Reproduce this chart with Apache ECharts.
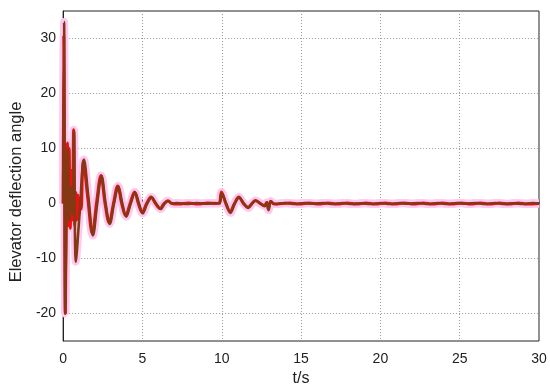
<!DOCTYPE html>
<html><head><meta charset="utf-8">
<script src="https://cdn.jsdelivr.net/npm/echarts@6/dist/echarts.min.js"></script>
<style>html,body{margin:0;padding:0;background:#fff}#c{width:550px;height:392px}</style>
</head><body><div id="c"></div>
<script>
const xTicks = [0, 5, 10, 15, 20, 25, 30];
const yTicks = [-20, -10, 0, 10, 20, 30];
const xLabel = 't/s';
const yLabel = 'Elevator deflection angle';

const brownT = [0, 0.06, 0.13, 0.2, 0.3, 0.4, 0.5, 0.6, 0.69, 0.8, 1.05, 1.31, 1.6, 1.88, 2.15, 2.42, 2.68, 2.94, 3.21, 3.48, 3.73, 3.98, 4.26, 4.54, 4.78, 5.02, 5.3, 5.58, 5.86, 6.15, 6.4, 6.63, 6.85, 7.2, 7.8, 8.4, 9.0, 9.6, 9.86, 10.0, 10.28, 10.55, 10.82, 11.1, 11.4, 11.68, 11.92, 12.15, 12.45, 12.7, 12.85, 12.95, 13.1, 13.35, 14.0, 14.6, 15.2, 15.8, 16.4, 17.0, 17.6, 18.2, 18.8, 19.4, 20.0, 20.6, 21.2, 21.8, 22.4, 23.0, 23.6, 24.2, 24.8, 25.4, 26.0, 26.6, 27.2, 27.8, 28.4, 29.0, 29.6, 30];
const brownV = [0, 33, -20, -4, 10, -3, 3, -2, 13.2, -10.6, -1.3, 8, 1, -5.8, 0, 5, 0, -3.7, 0, 3.1, 0, -2.4, 0, 2.0, 0, -1.8, 0, 1.1, 0, -1.0, 0, 0.45, 0, 0.1, -0.1, 0.1, -0.05, 0.1, 0, 1.9, 0, -1.7, 0, 1.1, 0, -0.8, 0, 0.5, 0, -0.5, 0.2, -1.2, 0.4, -0.1, 0.1, -0.1, 0.1, -0.05, 0.1, -0.1, 0.1, -0.1, 0.05, -0.1, 0.1, -0.1, 0.1, -0.05, 0.1, -0.1, 0.1, -0.1, 0.1, -0.05, 0.1, -0.1, 0.1, -0.1, 0.05, -0.1, 0.1, 0];

const redT = [0, 0.04, 0.09, 0.14, 0.2, 0.27, 0.33, 0.38, 0.45, 0.52, 0.58, 0.66, 0.73, 0.8, 0.86, 0.93, 1.0, 1.07, 1.14, 1.27, 1.55, 1.84, 2.1, 2.38, 2.64, 2.9, 3.17, 3.44, 3.69, 3.94, 4.22, 4.5, 4.74, 4.98, 5.26, 5.54, 5.82, 6.11, 6.36, 6.6, 6.85, 7.3, 7.9, 8.5, 9.1, 9.6, 9.84, 9.98, 10.25, 10.52, 10.8, 11.07, 11.36, 11.65, 11.9, 12.12, 12.42, 12.68, 12.83, 12.93, 13.08, 13.3, 14.3, 14.9, 15.5, 16.1, 16.7, 17.3, 17.9, 18.5, 19.1, 19.7, 20.3, 20.9, 21.5, 22.1, 22.7, 23.3, 23.9, 24.5, 25.1, 25.7, 26.3, 26.9, 27.5, 28.1, 28.7, 29.3, 30];
const redV = [0, 30.5, 5, -20, -2, 11, -4, 10, -4.5, 6, -3, 13.4, -4, 2, -3, 1.5, -2, 1, -1, 7.8, 1, -5.5, 0, 5.1, 0, -3.5, 0, 3.2, 0, -2.2, 0, 2.1, 0, -1.6, 0, 1.2, 0, -0.9, 0, 0.5, 0, -0.1, 0.1, -0.1, 0.1, 0, 0.1, 2.1, 0, -1.5, 0, 1.2, 0, -0.7, 0, 0.55, 0, -0.4, 0.2, -1.0, 0.4, -0.1, 0.1, -0.1, 0.1, -0.1, 0.1, -0.1, 0.1, -0.1, 0.1, -0.1, 0.1, -0.1, 0.1, -0.1, 0.1, -0.1, 0.1, -0.1, 0.1, -0.1, 0.1, -0.1, 0.1, -0.1, 0.1, -0.1, 0];

const zip = (t, v) => t.map((x, i) => [x, v[i]]);
const brown = zip(brownT, brownV);
const red = zip(redT, redV);

const font = "'Liberation Sans', Arial, sans-serif";
const chart = echarts.init(document.getElementById('c'), null, {renderer: 'canvas'});
chart.setOption({
  animation: false,
  backgroundColor: '#fff',
  grid: {left: 59, right: 11, top: 11, bottom: 51, show: true, borderColor: '#222', borderWidth: 1, backgroundColor: 'transparent'},
  xAxis: {
    type: 'value', min: 0, max: 30, interval: 5,
    name: xLabel, nameLocation: 'middle', nameGap: 23,
    nameTextStyle: {fontFamily: font, fontSize: 16, color: '#222', verticalAlign: 'top'},
    axisLine: {show: true, lineStyle: {color: '#222', width: 1}},
    axisTick: {show: true, inside: true, length: 4, lineStyle: {color: '#444'}},
    axisLabel: {fontFamily: font, fontSize: 14, color: '#222', margin: 11,
      formatter: v => xTicks.includes(v) ? String(v) : ''},
    splitLine: {show: true, lineStyle: {type: [1, 2], color: '#999', width: 1}}
  },
  yAxis: {
    type: 'value', min: -25, max: 35, interval: 5,
    name: yLabel, nameLocation: 'middle', nameGap: 37,
    nameTextStyle: {fontFamily: font, fontSize: 16.5, color: '#222', padding: [0, 32, 0, 0]},
    axisLine: {show: true, lineStyle: {color: '#222', width: 1}},
    axisTick: {show: false},
    axisLabel: {fontFamily: font, fontSize: 14, color: '#222', margin: 7,
      formatter: v => yTicks.includes(v) ? String(v) : ''},
    splitLine: {show: false}
  },
  series: [
    {type: 'line', data: red, showSymbol: false, smooth: 0.35, z: 2,
     lineStyle: {color: '#ffc8f0', width: 8},
     markLine: {silent: true, symbol: 'none', label: {show: false}, z: 1,
       lineStyle: {type: [1, 2], color: '#999', width: 1},
       data: yTicks.map(v => ({yAxis: v}))}},
    {type: 'line', data: brown, showSymbol: false, smooth: 0.35, z: 2,
     lineStyle: {color: '#ffc8f0', width: 8}},
    {type: 'line', data: red, showSymbol: false, smooth: 0.35, z: 3,
     lineStyle: {color: '#f01010', width: 3}},
    {type: 'line', data: brown, showSymbol: false, smooth: 0.35, z: 4,
     lineStyle: {color: '#853814', width: 2.6}}
  ]
});
</script></body></html>
